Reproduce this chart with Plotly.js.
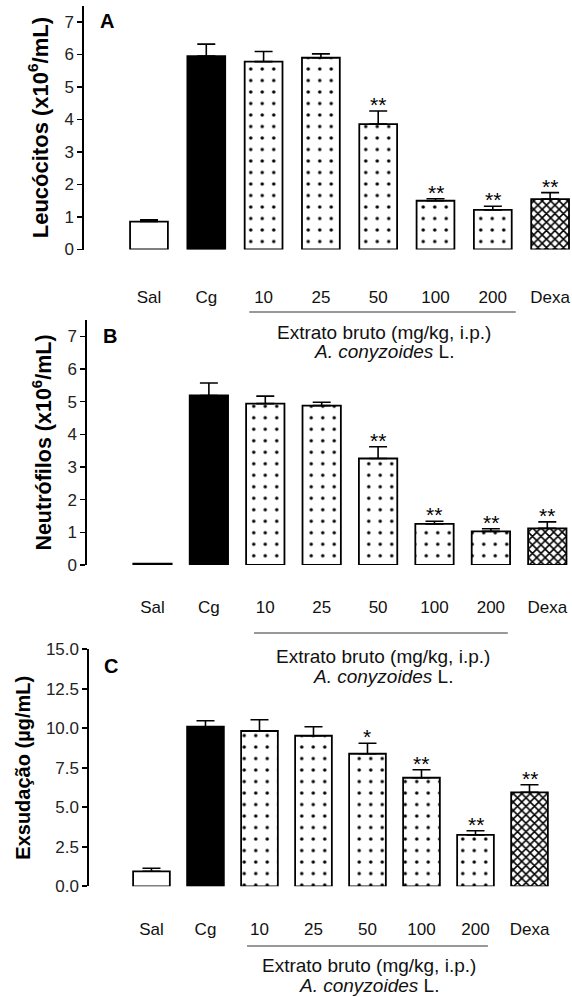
<!DOCTYPE html>
<html>
<head>
<meta charset="utf-8">
<script src="https://cdn.plot.ly/plotly-3.0.1.min.js"></script>
<style>html,body{margin:0;padding:0;background:#fff}#chart{width:572px;height:997px}</style>
</head>
<body>
<div id="chart"></div>
<script>
// ---- data ----
const categories = ['Sal', 'Cg', '10', '25', '50', '100', '200', 'Dexa'];

const leucocitosMean = [0.86, 5.95, 5.78, 5.90, 3.86, 1.50, 1.22, 1.55];
const leucocitosSem  = [0.05, 0.37, 0.31, 0.12, 0.40, 0.06, 0.11, 0.20];
const leucocitosSig  = ['', '', '', '', '**', '**', '**', '**'];

const neutrofilosMean = [0.04, 5.19, 4.94, 4.88, 3.26, 1.26, 1.03, 1.12];
const neutrofilosSem  = [0.00, 0.38, 0.23, 0.10, 0.36, 0.08, 0.08, 0.20];
const neutrofilosSig  = ['', '', '', '', '**', '**', '**', '**'];

const exsudacaoMean = [0.95, 10.10, 9.83, 9.53, 8.39, 6.87, 3.25, 5.95];
const exsudacaoSem  = [0.19, 0.38, 0.71, 0.57, 0.66, 0.51, 0.27, 0.48];
const exsudacaoSig  = ['', '', '', '', '*', '**', '**', '**'];

const groupLabel = 'Extrato bruto (mg/kg, i.p.)';
const speciesLabel = '<i>A. conyzoides</i> L.';

// ---- styles ----
const FONT = 'Liberation Sans, Arial, sans-serif';
const styleGroups = [
  {idx: [0], color: 'white', pattern: null},
  {idx: [1], color: 'black', pattern: null},
  {idx: [2, 3, 4, 5, 6], color: 'white', pattern: {shape: '.', size: 11.5, solidity: 0.07}},
  {idx: [7], color: 'white', pattern: {shape: 'x', size: 6, solidity: 0.45}}
];

function panelTraces(means, sems, xa, ya, width) {
  return styleGroups.map(g => {
    const marker = {color: g.color, line: {color: 'black', width: 1.8}};
    if (g.pattern) {
      marker.pattern = {shape: g.pattern.shape, size: g.pattern.size, solidity: g.pattern.solidity,
                        fgcolor: 'black', bgcolor: 'white', fillmode: 'replace'};
    }
    return {
      type: 'bar', xaxis: xa, yaxis: ya, width: width,
      x: g.idx.map(i => categories[i]),
      y: g.idx.map(i => means[i]),
      marker: marker,
      error_y: {type: 'data', symmetric: false,
                array: g.idx.map(i => sems[i]), arrayminus: g.idx.map(() => 0),
                color: 'black', thickness: 1.6, width: 9},
      hoverinfo: 'skip', showlegend: false
    };
  });
}

const data = [].concat(
  panelTraces(leucocitosMean, leucocitosSem, 'x', 'y', 0.66),
  panelTraces(neutrofilosMean, neutrofilosSem, 'x2', 'y2', 0.68),
  panelTraces(exsudacaoMean, exsudacaoSem, 'x3', 'y3', 0.68)
);

function yAxis(domain, range, dtick, fmt, title, anchor, titleSize, standoff) {
  return {
    domain: domain, range: range, dtick: dtick, tick0: 0, tickformat: fmt,
    anchor: anchor, showline: true, linewidth: 1.6, linecolor: 'black',
    ticks: 'outside', ticklen: 5, tickwidth: 1.6, tickcolor: 'black',
    showgrid: false, zeroline: false, fixedrange: true,
    tickfont: {family: FONT, size: 17, color: '#222'},
    title: {text: title, standoff: standoff, font: {family: FONT, size: titleSize, color: 'black', weight: 'bold'}}
  };
}
function xAxis(domain, range, anchor, standoff) {
  return {
    domain: domain, range: range, type: 'category',
    categoryorder: 'array', categoryarray: categories, anchor: anchor,
    showline: false, showgrid: false, zeroline: false, ticks: '', fixedrange: true,
    ticklabelstandoff: standoff,
    tickfont: {family: FONT, size: 17, color: '#111'}
  };
}

const H = 997, W = 572;
const py = v => 1 - v / H;

const annotations = [];
function addStars(means, sems, sig, xa, ya) {
  for (let i = 0; i < categories.length; i++) {
    if (!sig[i]) continue;
    annotations.push({x: i, y: means[i] + sems[i], xref: xa, yref: ya,
      text: sig[i], showarrow: false, xanchor: 'center', yanchor: 'bottom', yshift: -7,
      font: {family: FONT, size: 21, color: 'black'}});
  }
}
addStars(leucocitosMean, leucocitosSem, leucocitosSig, 'x', 'y');
addStars(neutrofilosMean, neutrofilosSem, neutrofilosSig, 'x2', 'y2');
addStars(exsudacaoMean, exsudacaoSem, exsudacaoSig, 'x3', 'y3');

function addGroupText(xa, cx, y1, y2) {
  annotations.push({x: cx, y: py(y1), xref: xa, yref: 'paper', text: groupLabel, showarrow: false,
    xanchor: 'center', yanchor: 'middle', font: {family: FONT, size: 19, color: '#111'}});
  annotations.push({x: cx, y: py(y2), xref: xa, yref: 'paper', text: speciesLabel, showarrow: false,
    xanchor: 'center', yanchor: 'middle', font: {family: FONT, size: 19, color: '#111'}});
}
addGroupText('x', 4.1, 332, 352);
addGroupText('x2', 4.08, 656, 676);
addGroupText('x3', 4.02, 965, 985);

[['A', 107, 21], ['B', 110, 336], ['C', 111, 666]].forEach(p => {
  annotations.push({x: p[1] / W, y: py(p[2]), xref: 'paper', yref: 'paper', text: p[0], showarrow: false,
    xanchor: 'center', yanchor: 'middle', font: {family: FONT, size: 20, color: 'black', weight: 'bold'}});
});

const shapes = [
  {type: 'line', xref: 'x', yref: 'paper', x0: 1.75, x1: 6.4, y0: py(312), y1: py(312), line: {color: '#333', width: 1.2}},
  {type: 'line', xref: 'x2', yref: 'paper', x0: 1.8, x1: 6.3, y0: py(633), y1: py(633), line: {color: '#333', width: 1.2}},
  {type: 'line', xref: 'x3', yref: 'paper', x0: 1.77, x1: 6.23, y0: py(946), y1: py(946), line: {color: '#333', width: 1.2}}
];

const layout = {
  width: W, height: H, margin: {l: 0, r: 0, t: 0, b: 0},
  paper_bgcolor: 'white', plot_bgcolor: 'white', showlegend: false, barmode: 'overlay',
  xaxis:  xAxis([84 / W, 1], [-1.134, 7.382], 'y', 35),
  yaxis:  yAxis([py(249.5), py(5.75)], [0, 7.5], 1, 'd', 'Leucócitos (x10<sup>6</sup>/mL)', 'x', 22, 10),
  xaxis2: xAxis([87 / W, 1], [-1.161, 7.438], 'y2', 30),
  yaxis2: yAxis([py(565), py(320)], [0, 7.5], 1, 'd', 'Neutrófilos (x10<sup>6</sup>/mL)', 'x2', 21.5, 10),
  xaxis3: xAxis([89 / W, 1], [-1.157, 7.787], 'y3', 31),
  yaxis3: yAxis([py(886.3), py(649.3)], [0, 15], 2.5, '.1f', 'Exsudação (µg/mL)', 'x3', 20, 10),
  annotations: annotations, shapes: shapes
};

Plotly.newPlot('chart', data, layout, {staticPlot: true, displayModeBar: false});
</script>
</body>
</html>
